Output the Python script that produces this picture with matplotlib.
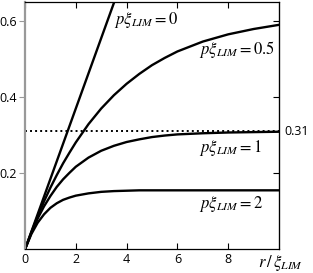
import matplotlib
matplotlib.use("Agg")
import matplotlib.pyplot as plt

plt.rcParams['mathtext.fontset'] = 'stix'
plt.rcParams['font.family'] = ['Open Sans', 'DejaVu Sans']

x_vals = [0, 0.25, 0.5, 0.75, 1, 1.25, 1.5, 1.75, 2, 2.5, 3, 3.5, 4, 4.5, 5, 5.5, 6, 7, 8, 9, 10]
y_p05 = [0, 0.045, 0.087, 0.126, 0.162, 0.195, 0.226, 0.254, 0.281, 0.329, 0.370, 0.405,
         0.435, 0.461, 0.484, 0.503, 0.520, 0.546, 0.565, 0.579, 0.590]
y_p1 = [0, 0.043, 0.081, 0.113, 0.140, 0.164, 0.184, 0.201, 0.217, 0.241, 0.259, 0.272,
        0.282, 0.289, 0.295, 0.299, 0.302, 0.305, 0.307, 0.308, 0.309]
y_p2 = [0, 0.040, 0.070, 0.092, 0.109, 0.121, 0.130, 0.136, 0.141, 0.147, 0.151, 0.153,
        0.154, 0.155, 0.155, 0.155, 0.155, 0.155, 0.155, 0.155, 0.155]
x_p0 = [0, 4]
y_p0 = [0, 0.74]
ref_level = 0.31

labels = [r'$p\xi_{LIM}=0$', r'$p\xi_{LIM}=0.5$', r'$p\xi_{LIM}=1$', r'$p\xi_{LIM}=2$']
label_pos = [(3.5, 0.603), (6.85, 0.525), (6.85, 0.267), (6.85, 0.119)]

fig = plt.figure(figsize=(3.13, 2.73), dpi=100)
ax = fig.add_axes([25/313, 1 - 249.3/273, (279-25)/313, (249.3-2)/273])

lw = 1.7
ax.plot(x_p0, y_p0, color='black', lw=lw)
ax.plot(x_vals, y_p05, color='black', lw=lw)
ax.plot(x_vals, y_p1, color='black', lw=lw)
ax.plot(x_vals, y_p2, color='black', lw=lw)
ax.plot([0, 10], [ref_level, ref_level], color='black', lw=1.4, linestyle=(0, (1, 1.6)))

ax.set_xlim(0, 10)
ax.set_ylim(0, 0.65)
ax.set_xticks([0, 2, 4, 6, 8])
ax.set_yticks([0.2, 0.4, 0.6])
ax.set_yticklabels(['0.2', '0.4', '0.6'])

ax.tick_params(axis='x', direction='in', top=True, length=4, width=0.8, labelsize=9, pad=3)
ax.tick_params(axis='y', direction='out', left=True, right=False, length=4, width=0.8,
               labelsize=9, pad=1.5, color='#999999')
ax.spines['left'].set_color('#999999')
ax.spines['left'].set_linewidth(1.6)
for s in ['top', 'right', 'bottom']:
    ax.spines[s].set_linewidth(0.9)

ax2 = ax.twinx()
ax2.set_ylim(0, 0.65)
ax2.set_yticks([0.2, 0.4, 0.6])
ax2.tick_params(axis='y', direction='in', length=4, width=0.8, labelright=False)
for s in ['left', 'top', 'bottom']:
    ax2.spines[s].set_visible(False)

for lab, (lx, ly) in zip(labels, label_pos):
    ax.text(lx, ly, lab, fontsize=12, va='center', ha='left')

ax.text(10.2, ref_level, '0.31', fontsize=9, va='center', ha='left', clip_on=False)
fig.text(258/313, 1 - 263/273, r'$r\,/\,\xi_{LIM}$', fontsize=12, va='center', ha='left')

fig.savefig('out.png', dpi=100)
